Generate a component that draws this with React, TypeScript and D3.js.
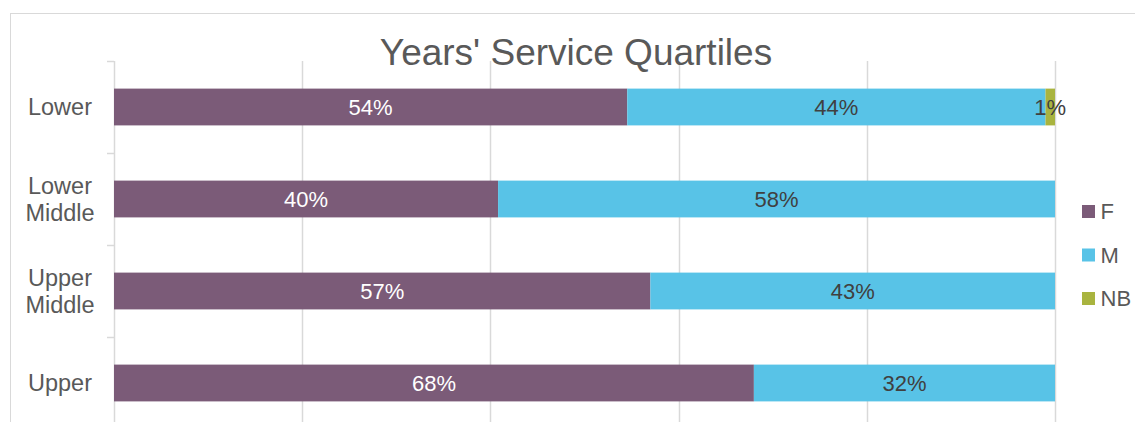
import React from 'react';
import * as d3 from 'd3';

const categories = ['Lower', 'Lower Middle', 'Upper Middle', 'Upper'];
const seriesNames = ['F', 'M', 'NB'];
const valuesF = [54, 40, 57, 68];
const valuesM = [44, 58, 43, 32];
const valuesNB = [1, 0, 0, 0];
const xTicks = [0, 0.2, 0.4, 0.6, 0.8, 1];

const colors = { F: '#7b5b78', M: '#58c3e7', NB: '#a9b43f' };
const labelColors = { F: '#ffffff', M: '#404040', NB: '#404040' };

const width = 1135;
const height = 422;
const font = 'Liberation Sans, Arial, sans-serif';

const rows = categories.map((c, i) => ({
  cat: c,
  F: valuesF[i],
  M: valuesM[i],
  NB: valuesNB[i],
}));

const App = () => {
  const x = d3.scaleLinear().domain([0, 1]).range([114, 1055]);
  const y = d3
    .scaleBand<string>()
    .domain(categories)
    .range([61, 429])
    .paddingInner(0.6)
    .paddingOuter(0.3);

  // 100% stacked: each row is normalised to its own total
  const stacked = d3
    .stack<any>()
    .keys(seriesNames)
    .offset(d3.stackOffsetExpand)(rows);

  const step = y.step();
  const boundaries = categories.map((c) => y(c)! - (step * 0.6) / 2);
  boundaries.push(boundaries[boundaries.length - 1] + step);

  return (
    <svg
      width={width}
      height={height}
      style={{ position: 'absolute', left: 0, top: 0, background: '#fff' }}
      fontFamily={font}
    >
      {/* chart frame */}
      <rect x={10.5} y={13.5} width={1140} height={430} fill="#fff" stroke="#d9d9d9" />

      {/* gridlines */}
      {xTicks.map((t) => (
        <line
          key={t}
          x1={Math.round(x(t)) + 0.5}
          x2={Math.round(x(t)) + 0.5}
          y1={61}
          y2={height}
          stroke="#d9d9d9"
          strokeWidth={1.5}
        />
      ))}

      {/* category tick marks */}
      {boundaries.map((b, i) => (
        <line key={i} x1={107} x2={114} y1={Math.round(b) + 0.5} y2={Math.round(b) + 0.5} stroke="#d9d9d9" strokeWidth={1.5} />
      ))}

      <text x={576} y={65} textAnchor="middle" fontSize={37} fill="#595959">
        Years' Service Quartiles
      </text>

      {/* bars */}
      {stacked.map((s) => (
        <g key={s.key} fill={colors[s.key as keyof typeof colors]}>
          {s.map((d, i) =>
            d[1] - d[0] > 0 ? (
              <rect
                key={i}
                x={x(d[0])}
                y={y(categories[i])}
                width={x(d[1]) - x(d[0])}
                height={y.bandwidth()}
              />
            ) : null
          )}
        </g>
      ))}

      {/* data labels */}
      {stacked.map((s) =>
        s.map((d, i) => {
          const raw = rows[i][s.key as 'F' | 'M' | 'NB'];
          if (!raw) return null;
          return (
            <text
              key={s.key + i}
              x={(x(d[0]) + x(d[1])) / 2}
              y={y(categories[i])! + y.bandwidth() / 2}
              dy="0.36em"
              textAnchor="middle"
              fontSize={22}
              fill={labelColors[s.key as keyof typeof labelColors]}
            >
              {raw}%
            </text>
          );
        })
      )}

      {/* category labels */}
      {categories.map((c) => {
        const parts = c.split(' ');
        const cy = y(c)! + y.bandwidth() / 2;
        const lh = 27.5;
        const start = cy - ((parts.length - 1) * lh) / 2;
        return (
          <text key={c} textAnchor="middle" fontSize={23.5} fill="#595959">
            {parts.map((p, j) => (
              <tspan key={j} x={60} y={start + j * lh} dy="0.36em">
                {p}
              </tspan>
            ))}
          </text>
        );
      })}

      {/* legend */}
      {seriesNames.map((n, i) => (
        <g key={n} transform={`translate(1082,${205 + i * 43.5})`}>
          <rect width={13} height={13} fill={colors[n as keyof typeof colors]} />
          <text x={18.5} y={6.5} dy="0.36em" fontSize={22} fill="#595959">
            {n}
          </text>
        </g>
      ))}
    </svg>
  );
};

export default App;
